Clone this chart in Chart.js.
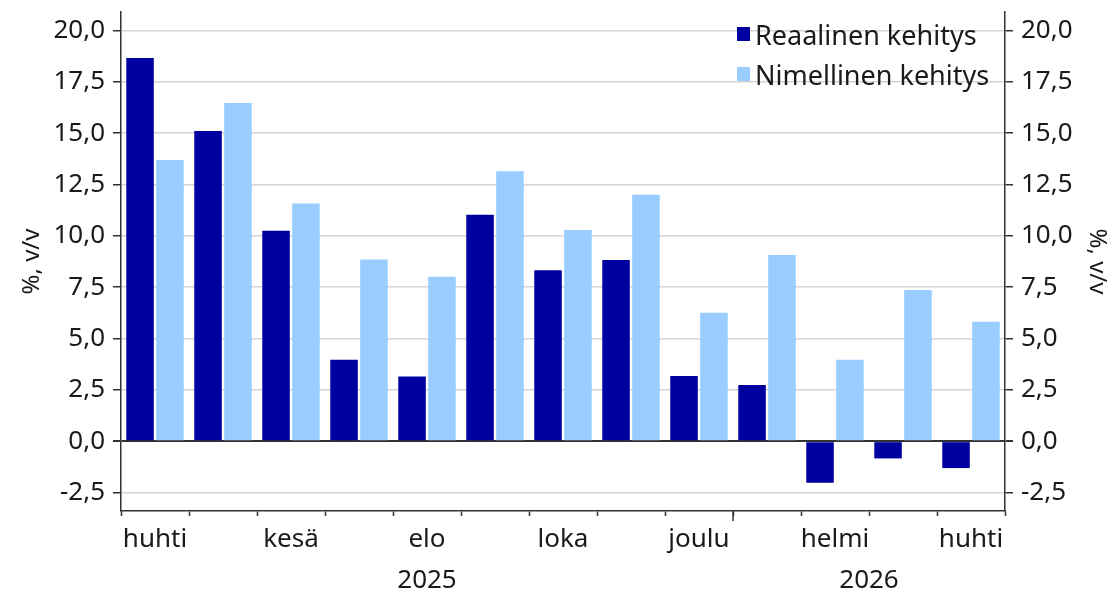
<!DOCTYPE html>
<html>
<head>
<meta charset="utf-8">
<script src="https://cdn.jsdelivr.net/npm/chart.js@4.4.1/dist/chart.umd.min.js"></script>
<style>
    html, body { margin: 0; padding: 0; background: #fff; }
    #wrap { position: relative; width: 1110px; height: 590px; }
    #legend { position: absolute; left: 737px; top: 14px; font-family: "Noto Sans", sans-serif; font-size: 27px; color: #1a1a1a; }
    .item { display: flex; align-items: center; height: 40px; white-space: nowrap; }
    .box { width: 13px; height: 14px; margin-right: 5px; }
</style>
</head>
<body>
<div id="wrap">
    <canvas id="chart" width="1110" height="590"></canvas>
    <div id="legend"></div>
</div>
<script>
const months = ["huhti", "touko", "kesä", "heinä", "elo", "syys", "loka", "marras", "joulu", "tammi", "helmi", "maalis", "huhti"];
const real = [18.66, 15.11, 10.25, 3.97, 3.15, 11.03, 8.32, 8.82, 3.18, 2.73, -2.03, -0.84, -1.31];
const nominal = [13.69, 16.47, 11.58, 8.85, 8.01, 13.15, 10.28, 12.0, 6.26, 9.07, 3.96, 7.36, 5.82];
const yTicks = [-2.5, 0, 2.5, 5, 7.5, 10, 12.5, 15, 17.5, 20];
const years = ["2025", "2026"];
const yearStart = [0, 9];
const yearEnd = [8, 12];

const FONT = "\"Noto Sans\", sans-serif";
const TEXT = "#1a1a1a";
const AXIS = "#333333";
const DARK = "#0000a0";
const LIGHT = "#99ccff";

Chart.defaults.font.family = FONT;
Chart.defaults.color = TEXT;

const fmt = v => v.toFixed(1).replace(".", ",");

function yAxis(position) {
    const left = position === "left";
    return {
        position: position,
        min: -3.4,
        max: 20.9,
        afterBuildTicks: s => { s.ticks = yTicks.map(v => ({ value: v })); },
        afterFit: s => {
            s.width = left ? 121 : 105;
            s.paddingTop = 0;
            s.paddingBottom = 0;
        },
        grid: {
            drawOnChartArea: left,
            color: ctx => ctx.tick && ctx.tick.value === 0 ? AXIS : "#d4d4d4",
            lineWidth: ctx => ctx.tick && ctx.tick.value === 0 ? 2 : 1.5,
            tickColor: AXIS,
            tickLength: 8
        },
        border: { color: AXIS, width: 1.5 },
        ticks: { color: TEXT, font: { size: 26 }, padding: 8, callback: v => fmt(v) },
        title: {
            display: true,
            text: "%, v/v",
            color: TEXT,
            font: { size: 24, lineHeight: 1 },
            padding: { top: left ? 20 : 1, bottom: 0 }
        }
    };
}

const yearTick = {
    id: "yearTick",
    afterDraw(chart) {
        const x = chart.scales.x;
        const ctx = chart.ctx;
        yearStart.slice(1).forEach(i => {
            const px = (x.getPixelForValue(i - 1) + x.getPixelForValue(i)) / 2;
            ctx.save();
            ctx.strokeStyle = AXIS;
            ctx.lineWidth = 1.5;
            ctx.beginPath();
            ctx.moveTo(px, x.top);
            ctx.lineTo(px, x.top + 10);
            ctx.stroke();
            ctx.restore();
        });
    }
};

const chart = new Chart(document.getElementById("chart"), {
    type: "bar",
    data: {
        labels: months,
        datasets: [
            { label: "Reaalinen kehitys", data: real, backgroundColor: DARK, yAxisID: "y" },
            { label: "Nimellinen kehitys", data: nominal, backgroundColor: LIGHT, yAxisID: "y" }
        ]
    },
    options: {
        responsive: false,
        animation: false,
        devicePixelRatio: 1,
        barPercentage: 0.92,
        categoryPercentage: 0.88,
        layout: { padding: { top: 12, left: 0, right: 0, bottom: 0 } },
        plugins: { legend: { display: false }, tooltip: { enabled: false } },
        scales: {
            x: {
                type: "category",
                offset: true,
                grid: { offset: true, drawOnChartArea: false, tickLength: 5, tickColor: AXIS, tickWidth: 1.5 },
                border: { color: AXIS, width: 1.5 },
                ticks: {
                    autoSkip: false,
                    maxRotation: 0,
                    color: TEXT,
                    font: { size: 26 },
                    padding: 8,
                    callback: (v, i) => i % 2 === 0 ? months[i] : ""
                },
                afterFit: s => { s.height = 46; s.paddingLeft = 0; s.paddingRight = 0; }
            },
            x2: {
                type: "linear",
                position: "bottom",
                offset: false,
                min: -0.5,
                max: 12.5,
                grid: { display: false, offset: false },
                border: { display: false },
                afterBuildTicks: s => { s.ticks = years.map((y, i) => ({ value: (yearStart[i] + yearEnd[i]) / 2 })); },
                ticks: { autoSkip: false, maxRotation: 0, color: TEXT, font: { size: 26 }, padding: 0, callback: (v, i) => years[i] },
                afterFit: s => { s.height = 33; s.paddingLeft = 0; s.paddingRight = 0; }
            },
            y: yAxis("left"),
            y2: yAxis("right")
        }
    },
    plugins: [yearTick]
});

const legendEl = document.getElementById("legend");
chart.data.datasets.forEach(ds => {
    const item = document.createElement("div");
    item.className = "item";
    item.innerHTML = `<span class="box" style="background:${ds.backgroundColor}"></span><span>${ds.label}</span>`;
    legendEl.appendChild(item);
});
</script>
</body>
</html>
